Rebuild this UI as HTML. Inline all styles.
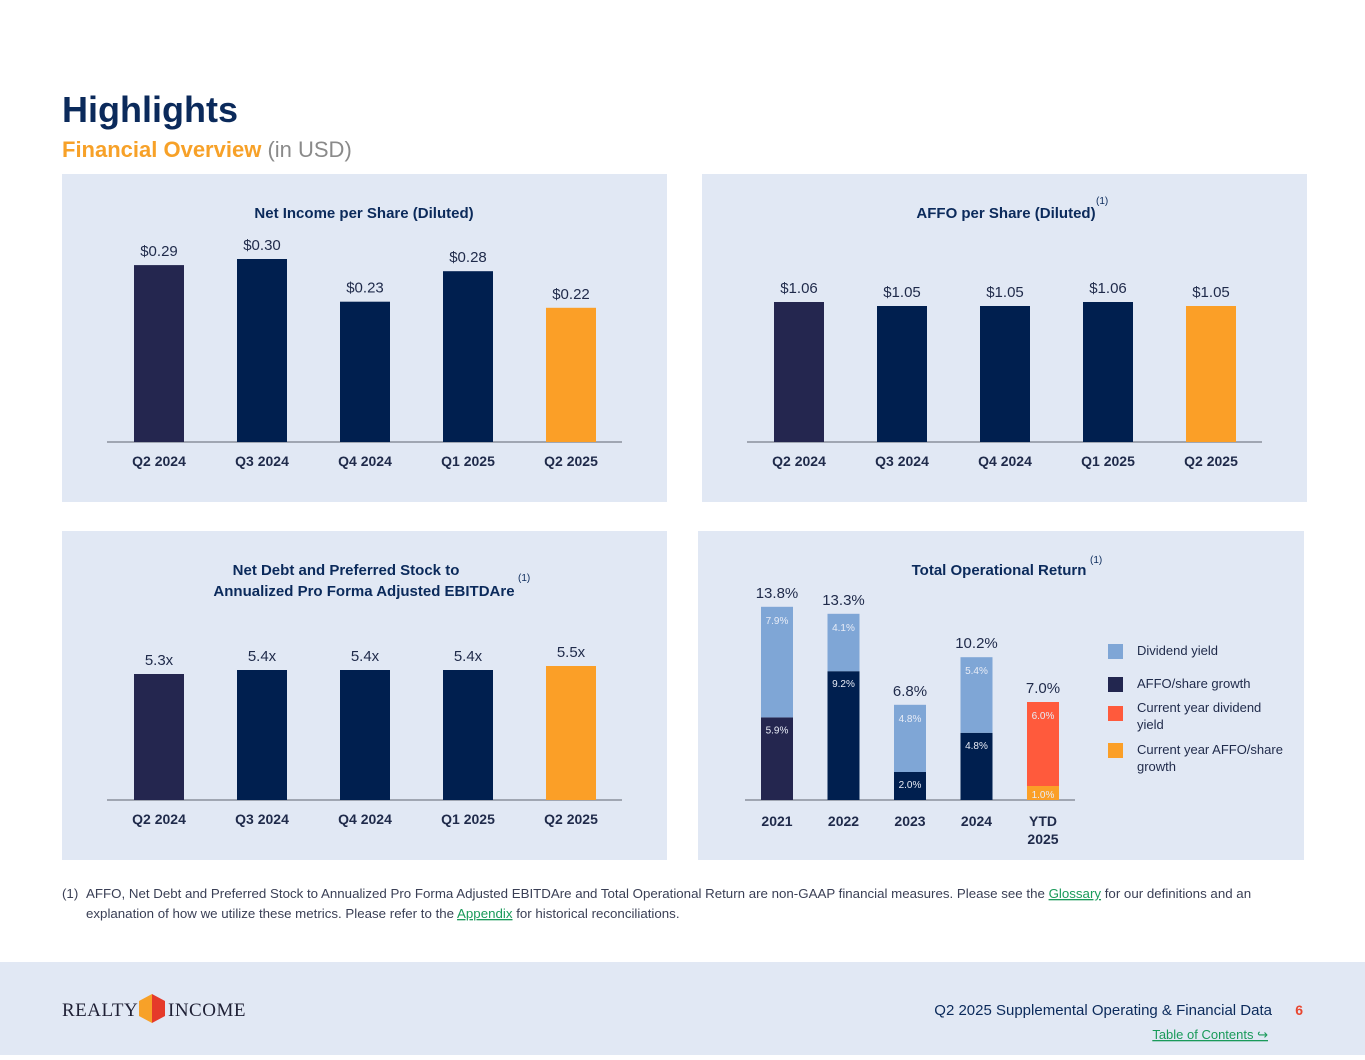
<!DOCTYPE html>
<html><head><meta charset="utf-8"><style>
html,body{margin:0;padding:0;background:#fff;}
body{width:1365px;height:1055px;overflow:hidden;font-family:"Liberation Sans",sans-serif;}
text{font-family:"Liberation Sans",sans-serif;}
text.serif{font-family:"Liberation Serif",serif;}
</style></head><body>
<svg id="s" width="1365" height="1055" xmlns="http://www.w3.org/2000/svg">
<text x="62" y="122" font-size="36" font-weight="bold" fill="#0b2a5b">Highlights</text>
<text x="62" y="157" font-size="22" font-weight="bold" fill="#f7a128">Financial Overview <tspan fill="#8a8a8a" font-weight="normal">(in USD)</tspan></text>
<rect x="62" y="174" width="605" height="328" fill="#e1e8f4"/>
<rect x="702" y="174" width="605" height="328" fill="#e1e8f4"/>
<rect x="62" y="531" width="605" height="329" fill="#e1e8f4"/>
<rect x="698" y="531" width="606" height="329" fill="#e1e8f4"/>
<text x="364" y="218" font-size="15" font-weight="bold" fill="#0b2a5b" text-anchor="middle">Net Income per Share (Diluted)</text>
<text x="1006" y="218" font-size="15" font-weight="bold" fill="#0b2a5b" text-anchor="middle">AFFO per Share (Diluted)</text>
<text x="1096" y="204" font-size="10" fill="#0b2a5b">(1)</text>
<text x="346" y="575" font-size="15" font-weight="bold" fill="#0b2a5b" text-anchor="middle">Net Debt and Preferred Stock to</text>
<text x="364" y="596" font-size="15" font-weight="bold" fill="#0b2a5b" text-anchor="middle">Annualized Pro Forma Adjusted EBITDAre</text>
<text x="518" y="581" font-size="10" fill="#0b2a5b">(1)</text>
<text x="999" y="575" font-size="15" font-weight="bold" fill="#0b2a5b" text-anchor="middle">Total Operational Return</text>
<text x="1090" y="563" font-size="10" fill="#0b2a5b">(1)</text>
<g id="charts"></g>
<g>
<rect x="1108" y="644" width="15" height="15" fill="#7fa6d6"/>
<text x="1137" y="655" font-size="13" fill="#1f2a4a">Dividend yield</text>
<rect x="1108" y="677" width="15" height="15" fill="#22264f"/>
<text x="1137" y="688" font-size="13" fill="#1f2a4a">AFFO/share growth</text>
<rect x="1108" y="706" width="15" height="15" fill="#ff5a3c"/>
<text x="1137" y="712" font-size="13" fill="#1f2a4a"><tspan x="1137">Current year dividend</tspan><tspan x="1137" dy="17">yield</tspan></text>
<rect x="1108" y="743" width="15" height="15" fill="#fb9f27"/>
<text x="1137" y="754" font-size="13" fill="#1f2a4a"><tspan x="1137">Current year AFFO/share</tspan><tspan x="1137" dy="17">growth</tspan></text>
</g>
<text font-size="13.3" fill="#3a3f55"><tspan x="62" y="898">(1)</tspan><tspan x="86" y="898">AFFO, Net Debt and Preferred Stock to Annualized Pro Forma Adjusted EBITDAre and Total Operational Return are non-GAAP financial measures. Please see the </tspan><tspan fill="#1a9a5a" text-decoration="underline">Glossary</tspan><tspan> for our definitions and an</tspan><tspan x="86" y="918">explanation of how we utilize these metrics. Please refer to the </tspan><tspan fill="#1a9a5a" text-decoration="underline">Appendix</tspan><tspan> for historical reconciliations.</tspan></text>
<rect x="0" y="962" width="1365" height="93" fill="#e1e8f4"/>
<g>
<text class="serif" x="62" y="1016" style="font-family:'Liberation Serif',serif" font-size="19" fill="#1f2035" letter-spacing="0.5">REALTY</text>
<polygon points="139,1001 152,994 152,1023 139,1016" fill="#f7a128"/>
<polygon points="152,994 165,1001 165,1016 152,1023" fill="#e53a2a"/>
<text class="serif" x="168" y="1016" style="font-family:'Liberation Serif',serif" font-size="19" fill="#1f2035" letter-spacing="0.5">INCOME</text>
</g>
<text x="1272" y="1015" font-size="15" fill="#0b2a5b" text-anchor="end">Q2 2025 Supplemental Operating &amp; Financial Data</text>
<text x="1303" y="1015" font-size="14" font-weight="bold" fill="#e8462f" text-anchor="end">6</text>
<text x="1268" y="1039" font-size="13" fill="#1a9a5a" text-anchor="end" text-decoration="underline">Table of Contents ↪</text>
</svg>
<script>
const quarters = ["Q2 2024","Q3 2024","Q4 2024","Q1 2025","Q2 2025"];
const netIncome = [0.29,0.30,0.23,0.28,0.22];
const netIncomeLabels = ["$0.29","$0.30","$0.23","$0.28","$0.22"];
const affo = [1.06,1.05,1.05,1.06,1.05];
const affoLabels = ["$1.06","$1.05","$1.05","$1.06","$1.05"];
const leverage = [5.3,5.4,5.4,5.4,5.5];
const leverageLabels = ["5.3x","5.4x","5.4x","5.4x","5.5x"];
const years = ["2021","2022","2023","2024","YTD|2025"];
const affoGrowth = [5.9,9.2,2.0,4.8,1.0];
const dividendYield = [7.9,4.1,4.8,5.4,6.0];
const totalReturn = ["13.8%","13.3%","6.8%","10.2%","7.0%"];

const NS="http://www.w3.org/2000/svg";
const g=document.getElementById('charts');
function mk(tag,attrs,txt){const e=document.createElementNS(NS,tag);for(const k in attrs)e.setAttribute(k,attrs[k]);if(txt!==undefined)e.textContent=txt;g.appendChild(e);return e;}
const NAVY="#001f4f",FIRST="#24264f",ORANGE="#fb9f27";

function barChart(name,x0,step,base,scaleFn,vals,labels,axisY,axisX1,axisX2){
  const axis=mk('line',{x1:axisX1,x2:axisX2,y1:axisY,y2:axisY,stroke:'#8a8f9c','stroke-width':1.5});
  
  
  vals.forEach((v,i)=>{
    const cx=x0+i*step,h=scaleFn(v),col=i===0?FIRST:(i===vals.length-1?ORANGE:NAVY);
    const r=mk('rect',{x:cx-25,y:axisY-h,width:50,height:h,fill:col});
    
    
    const t=mk('text',{x:cx,y:axisY-h-9,'font-size':15,fill:'#1f2a4a','text-anchor':'middle'},labels[i]);
    
    
    const q=mk('text',{x:cx,y:axisY+24,'font-size':14,'font-weight':'bold',fill:'#1f2a4a','text-anchor':'middle'},quarters[i]);
    
    
  });
}
barChart('net-income',159,103,442,v=>v*610,netIncome,netIncomeLabels,442,107,622);
barChart('affo',799,103,442,v=>(v-0.71)*400,affo,affoLabels,442,747,1262);
barChart('net-debt',159,103,800,v=>(v-2.15)*40,leverage,leverageLabels,800,107,622);

const sy=800,sk=14;
const ax=mk('line',{x1:745,x2:1075,y1:sy,y2:sy,stroke:'#8a8f9c','stroke-width':1.5});


years.forEach((yr,i)=>{
  const cx=777+i*66.5,last=i===years.length-1;
  const h1=affoGrowth[i]*sk,h2=dividendYield[i]*sk;
  const c1=last?ORANGE:(i===0?FIRST:NAVY),c2=last?"#ff5a3c":"#7fa6d6";
  const b1=mk('rect',{x:cx-16,y:sy-h1,width:32,height:h1,fill:c1});
  
  
  const b2=mk('rect',{x:cx-16,y:sy-h1-h2,width:32,height:h2,fill:c2});
  
  
  const l1=mk('text',{x:cx,y:sy-h1+16,'font-size':10,fill:'#e8ecf6','text-anchor':'middle'},affoGrowth[i].toFixed(1)+'%');
  if(last) l1.setAttribute('y',sy-2);
  
  
  const l2=mk('text',{x:cx,y:sy-h1-h2+17,'font-size':10,fill:'#e8ecf6','text-anchor':'middle'},dividendYield[i].toFixed(1)+'%');
  
  
  const tt=mk('text',{x:cx,y:sy-h1-h2-9,'font-size':15,fill:'#1f2a4a','text-anchor':'middle'},totalReturn[i]);
  
  
  yr.split('|').forEach((p,j)=>{
    const yl=mk('text',{x:cx,y:sy+26+j*18,'font-size':14,'font-weight':'bold',fill:'#1f2a4a','text-anchor':'middle'},p);
    
    
  });
});
</script>
</body></html>
